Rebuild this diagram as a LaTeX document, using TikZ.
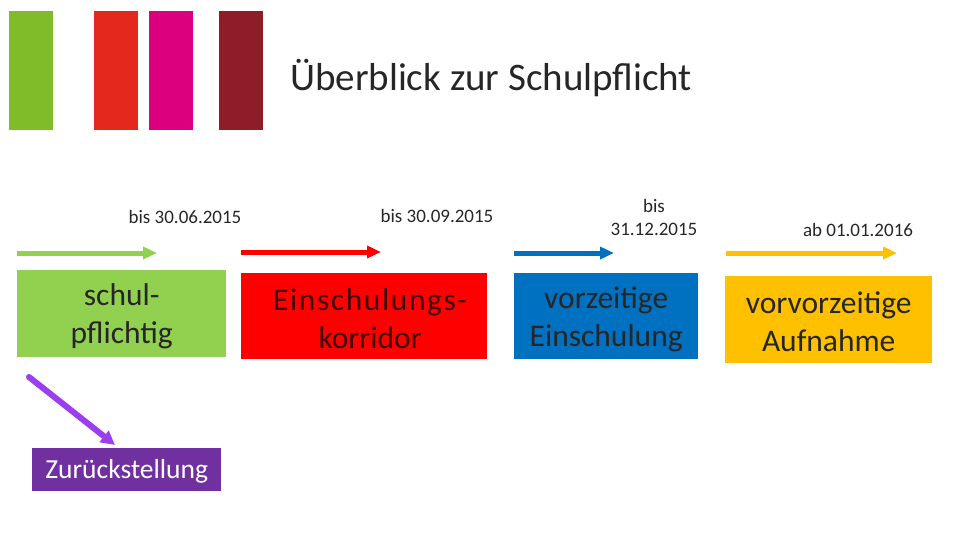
\documentclass[tikz,border=0pt]{standalone}
\usepackage{fontspec}
\setmainfont{Carlito}
\newfontfamily\widefont[LetterSpace=5]{Carlito}
\usetikzlibrary{arrows.meta}
\definecolor{cgreen}{HTML}{80BC2A}
\definecolor{cred}{HTML}{E3281D}
\definecolor{cmag}{HTML}{DC007E}
\definecolor{cdark}{HTML}{8E1D28}
\definecolor{bgreen}{HTML}{92D050}
\definecolor{bred}{HTML}{FF0000}
\definecolor{bblue}{HTML}{0070C0}
\definecolor{byellow}{HTML}{FFC000}
\definecolor{bpurple}{HTML}{7030A0}
\definecolor{apurple}{HTML}{9B3DF0}
\begin{document}
\begin{tikzpicture}[x=1pt,y=-1pt,
  bar/.style={minimum width=44pt,minimum height=119pt,inner sep=0pt,anchor=north west},
  phase/.style={inner sep=0pt,anchor=north west},
  ptext/.style={align=center,font=\fontsize{31.5}{38}\selectfont,text=black!85},
  datelbl/.style={align=center,font=\fontsize{19}{23}\selectfont,text=black!85},
  tl/.style={line width=5pt,-{Triangle[length=14pt,width=12pt]}}]
\useasboundingbox (0,0) rectangle (960,540);
\node[bar,fill=cgreen] (b1) at (9,11) {};
\node[bar,fill=cred] (b2) at (94,11) {};
\node[bar,fill=cmag] (b3) at (149,11) {};
\node[bar,fill=cdark] (b4) at (219,11) {};
\node[font=\fontsize{39}{44}\selectfont,text=black!85] (title) at (491,78) {Überblick zur Schulpflicht};

\node[datelbl] (d1) at (185,217) {bis 30.06.2015};
\node[datelbl] (d2) at (437,216) {bis 30.09.2015};
\node[datelbl] (d3) at (654,217) {bis\\31.12.2015};
\node[datelbl] (d4) at (858,230) {ab 01.01.2016};

\coordinate (a1s) at (17,253); \coordinate (a1e) at (157,253);
\coordinate (a2s) at (241,252); \coordinate (a2e) at (381,252);
\coordinate (a3s) at (514,253); \coordinate (a3e) at (614,253);
\coordinate (a4s) at (726,253); \coordinate (a4e) at (897,253);
\draw[tl,bgreen] (a1s) -- (a1e);
\draw[tl,bred] (a2s) -- (a2e);
\draw[tl,bblue] (a3s) -- (a3e);
\draw[tl,byellow] (a4s) -- (a4e);

\node[phase,fill=bgreen,minimum width=209pt,minimum height=87pt] (p1) at (17,270) {};
\node[ptext] (t1) at ([yshift=-3pt]p1.center) {schul-\\pflichtig};
\node[phase,fill=bred,minimum width=246pt,minimum height=86pt] (p2) at (241,273) {};
\node[ptext,text=black!75!red] (t2) at ([yshift=-2pt,xshift=6pt]p2.center) {{\widefont Einschulungs-}\\korridor};
\node[phase,fill=bblue,minimum width=184pt,minimum height=86pt] (p3) at (514,273) {};
\node[ptext] (t3) at ([yshift=-3pt]p3.center) {vorzeitige\\Einschulung};
\node[phase,fill=byellow,minimum width=207pt,minimum height=87pt] (p4) at (725,276) {};
\node[ptext] (t4) at ([yshift=-2pt]p4.center) {vorvorzeitige\\Aufnahme};

\node[phase,fill=bpurple,minimum width=189pt,minimum height=43pt] (p5) at (32,448) {};
\node[font=\fontsize{27.5}{30}\selectfont,text=white] (t5) at ([yshift=-2pt]p5.center) {Zurückstellung};

\coordinate (ps) at (29,377);
\coordinate (pe) at (115,445);
\draw[apurple,line width=6pt,line cap=round,-{Triangle[length=14pt,width=14pt]}] (ps) -- (pe);
\end{tikzpicture}
\end{document}
